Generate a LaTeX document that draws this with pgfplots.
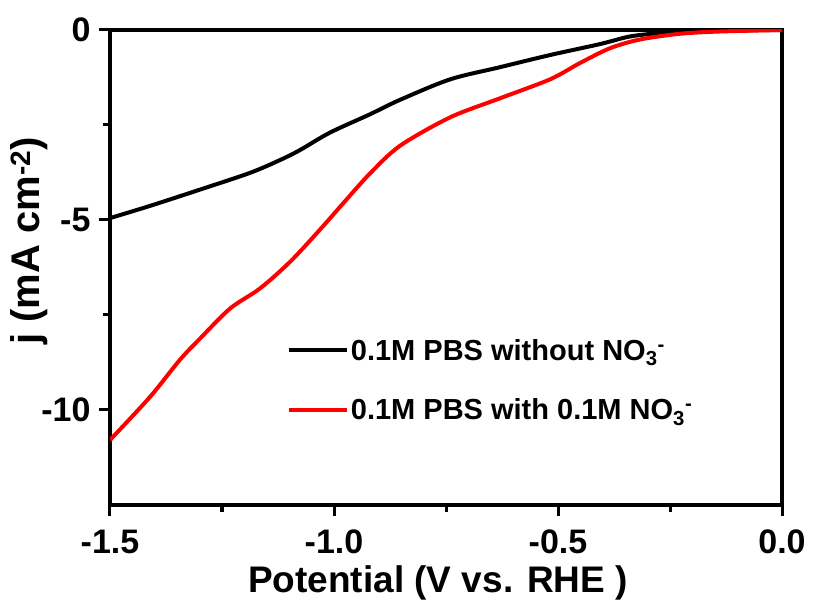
\documentclass[border=0pt]{standalone}
\usepackage{fontspec}
\setmainfont{Liberation Sans}
\usepackage{pgfplots}
\pgfplotsset{compat=1.18}
\begin{document}
\begin{tikzpicture}
\path[use as bounding box] (-110pt,-99pt) rectangle (704pt,505pt);
\begin{axis}[
  scale only axis,
  width=672pt, height=475pt,
  xmin=-1.5, xmax=0, ymin=-12.5, ymax=0,
  axis line style={line width=3.5pt},
  every tick/.append style={line width=3pt, black},
  tick align=outside,
  major tick length=11pt, minor tick length=7pt,
  xtick={-1.5,-1,-0.5,0}, xticklabels={-1.5,-1.0,-0.5,0.0},
  minor xtick={-1.25,-0.75,-0.25},
  ytick={0,-5,-10}, yticklabels={0,-5,-10},
  minor ytick={-2.5,-7.5},
  xtick pos=bottom, ytick pos=left,
  ticklabel style={font=\bfseries\fontsize{34}{40}\selectfont},
  xticklabel style={anchor=base, inner sep=0pt, yshift=-38pt},
  yticklabel style={xshift=-5pt},
  xlabel={Potential (V vs. RHE )},
  ylabel={j (mA cm\textsuperscript{-2})},
  xlabel style={font=\bfseries\fontsize{37}{44}\selectfont, inner sep=0pt, at={(axis description cs:0.488,-0.1832)}, anchor=base},
  ylabel style={font=\bfseries\fontsize{40}{46}\selectfont, at={(axis description cs:-0.1205,0.556)}, anchor=center},
  legend style={draw=none, fill=none, at={(0.263,0.263)}, anchor=west,
    font=\bfseries\fontsize{29}{34}\selectfont, inner xsep=0pt, row sep=33pt},
  legend cell align=left,
  legend image code/.code={\draw[#1,line width=4pt] (0pt,0pt) -- (58pt,0pt);},
]
\addplot[black, line width=4pt, smooth] coordinates {
(-1.5,-4.95) (-1.411,-4.63) (-1.299,-4.2) (-1.1875,-3.76) (-1.12,-3.42)
(-1.076,-3.16) (-1.009,-2.7) (-0.92,-2.22) (-0.853,-1.84) (-0.741,-1.3)
(-0.63,-0.98) (-0.518,-0.66) (-0.406,-0.37) (-0.339,-0.17) (-0.27,-0.08)
(-0.183,-0.03) (-0.09,-0.01) (0,0)
};
\addlegendentry{0.1M PBS without NO\textsubscript{3}\textsuperscript{-}}
\addplot[red, line width=4pt, smooth] coordinates {
(-1.5,-10.79) (-1.411,-9.66) (-1.344,-8.68) (-1.299,-8.12) (-1.232,-7.33)
(-1.165,-6.8) (-1.098,-6.1) (-1.031,-5.25) (-0.975,-4.5) (-0.92,-3.78)
(-0.853,-3.05) (-0.741,-2.3) (-0.63,-1.8) (-0.518,-1.3) (-0.451,-0.87)
(-0.384,-0.48) (-0.317,-0.25) (-0.228,-0.1) (-0.14,-0.04) (0,0)
};
\addlegendentry{0.1M PBS with 0.1M NO\textsubscript{3}\textsuperscript{-}}
\end{axis}
\end{tikzpicture}
\end{document}
